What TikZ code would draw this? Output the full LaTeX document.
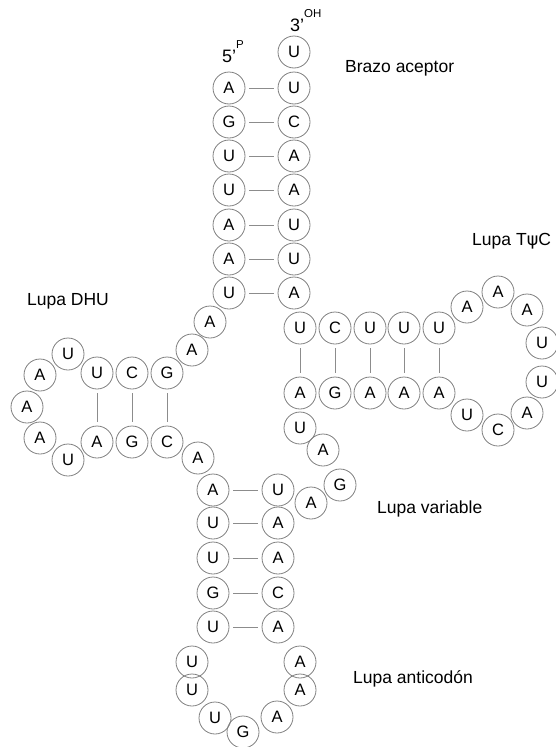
\documentclass[tikz,border=0pt]{standalone}
\usepackage{fontspec}
\setmainfont{Liberation Sans}
\begin{document}
\begin{tikzpicture}[x=1pt,y=-1pt,
  b/.style={circle,draw=black!50,line width=0.8pt,minimum size=32pt,inner sep=0pt,font=\fontsize{16.5}{16.5}\selectfont},
  pr/.style={draw=black!45,line width=0.8pt,shorten <=4pt,shorten >=4pt},
  lab/.style={anchor=base west,inner sep=0pt,font=\fontsize{17.5}{18}\selectfont},
  endl/.style={anchor=base west,inner sep=0pt,font=\fontsize{18}{18}\selectfont}]
\useasboundingbox (0,0) rectangle (556,747);
% acceptor stem
\foreach \n/\l/\y in {a1/A/88,a2/G/122,a3/U/156,a4/U/190,a5/A/225,a6/A/259,a7/U/293}
  \node[b] (\n) at (229,\y) {\l};
\foreach \n/\l/\y in {r0/U/52,r1/U/88,r2/C/122,r3/A/156,r4/A/190,r5/U/225,r6/U/259,r7/A/293}
  \node[b] (\n) at (294,\y) {\l};
\foreach \i in {1,...,7} \draw[pr] (a\i) -- (r\i);
% linker
\node[b] (l1) at (210,322) {A};
\node[b] (l2) at (192,350) {A};
% D arm
\node[b] (d1) at (167,373) {G};
\node[b] (d2) at (132,373) {C};
\node[b] (d3) at (97,373) {U};
\node[b] (dl1) at (68,354) {U};
\node[b] (dl2) at (40,375) {A};
\node[b] (dl3) at (27,407) {A};
\node[b] (dl4) at (40,438) {A};
\node[b] (dl5) at (68,460) {U};
\node[b] (d4) at (97,442) {A};
\node[b] (d5) at (132,442) {G};
\node[b] (d6) at (167,442) {C};
\draw[pr] (d3) -- (d4);
\draw[pr] (d2) -- (d5);
\draw[pr] (d1) -- (d6);
\node[b] (l3) at (198,458) {A};
% anticodon arm
\foreach \n/\l/\y in {c1/A/490,c2/U/523,c3/U/558,c4/G/593,c5/U/627}
  \node[b] (\n) at (213,\y) {\l};
\foreach \n/\l/\y in {c10/U/490,c9/A/523,c8/A/558,c7/C/593,c6/A/627}
  \node[b] (\n) at (278,\y) {\l};
\draw[pr] (c1) -- (c10);
\draw[pr] (c2) -- (c9);
\draw[pr] (c3) -- (c8);
\draw[pr] (c4) -- (c7);
\draw[pr] (c5) -- (c6);
\node[b] (cl1) at (192,662) {U};
\node[b] (cl2) at (192,690) {U};
\node[b] (cl3) at (215,718) {U};
\node[b] (cl4) at (243,732) {G};
\node[b] (cl5) at (277,717) {A};
\node[b] (cl6) at (300,690) {A};
\node[b] (cl7) at (300,662) {A};
% variable loop
\node[b] (v1) at (311,503) {A};
\node[b] (v2) at (340,485) {G};
\node[b] (v3) at (323,450) {A};
\node[b] (v4) at (300,428) {U};
% T arm
\foreach \n/\l/\x in {t1/A/300,t2/G/335,t3/A/370,t4/A/404,t5/A/439}
  \node[b] (\n) at (\x,393) {\l};
\foreach \n/\l/\x in {t6/U/300,t7/C/335,t8/U/370,t9/U/404,t10/U/439}
  \node[b] (\n) at (\x,328) {\l};
\draw[pr] (t1) -- (t6);
\draw[pr] (t2) -- (t7);
\draw[pr] (t3) -- (t8);
\draw[pr] (t4) -- (t9);
\draw[pr] (t5) -- (t10);
\node[b] (tl1) at (467,415) {U};
\node[b] (tl2) at (498,430) {C};
\node[b] (tl3) at (527,413) {A};
\node[b] (tl4) at (542,382) {U};
\node[b] (tl5) at (542,343) {U};
\node[b] (tl6) at (527,310) {A};
\node[b] (tl7) at (498,292) {A};
\node[b] (tl8) at (467,307) {A};
% labels
\node[endl] (p5) at (222,62) {5’\raisebox{14pt}{\fontsize{11.5}{11.5}\selectfont P}};
\node[endl] (p3) at (290,31) {3’\raisebox{14pt}{\fontsize{11.5}{11.5}\selectfont OH}};
\node[lab] (t_acc) at (345,72) {Brazo aceptor};
\node[lab] (t_dhu) at (27,305) {Lupa DHU};
\node[lab] (t_tpc) at (472,245) {Lupa\hspace{5pt}T\fontspec{DejaVu Sans}ψ\fontspec{Liberation Sans}C};
\node[lab] (t_var) at (377,513) {Lupa variable};
\node[lab] (t_ant) at (353,683) {Lupa anticodón};
\end{tikzpicture}
\end{document}
